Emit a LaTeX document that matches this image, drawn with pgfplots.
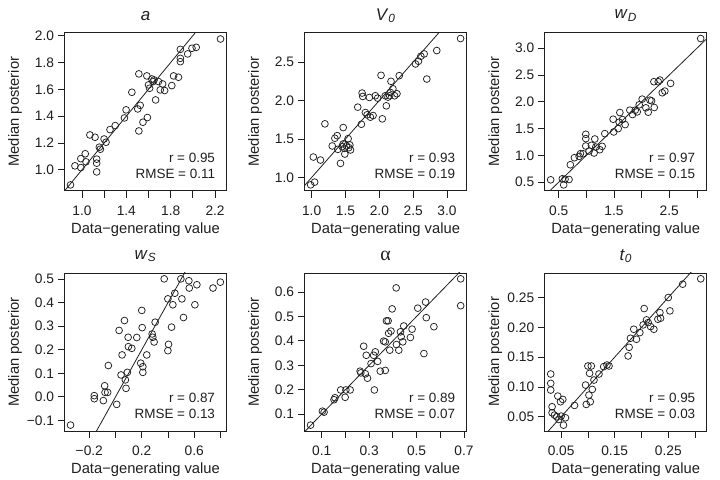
\documentclass[border=0pt]{standalone}
\usepackage{fontspec}
\setmainfont{Liberation Sans}
\newfontfamily\alphafont{Liberation Serif}
\usepackage{pgfplots}
\pgfplotsset{compat=1.18}
\definecolor{ink}{gray}{0.12}
\pgfplotsset{
  panel/.style={
    scale only axis, width=162bp, height=158bp,
    axis line style={line width=0.8bp, color=ink},
    tick style={line width=0.8bp, color=ink},
    tick align=outside, major tick length=7bp,
    xtick pos=bottom, ytick pos=left,
    minor tick num=0,
    tick label style={font=\fontsize{13.8}{14}\selectfont, text=ink},
    xticklabel style={anchor=center, yshift=-13bp},
    yticklabel style={anchor=east},
    label style={font=\fontsize{14.8}{15}\selectfont, text=ink},
    xlabel={Data−generating value},
    ylabel={Median posterior},
    xlabel style={at={(axis description cs:0.5,0)}, anchor=center, yshift=-39bp},
    ylabel style={at={(axis description cs:0,0.5)}, anchor=center, yshift=49.5bp},
    title style={at={(axis description cs:0.5,1)}, anchor=center, yshift=11bp, font=\fontsize{17}{17}\selectfont, text=ink},
    /pgf/number format/assume math mode=true,
    clip=true,
  },
  pts/.style={only marks, mark=o, mark size=3.4bp, mark options={line width=0.75bp, color=ink}},
  idl/.style={ink, line width=0.8bp, forget plot},
}
\newcommand{\stats}[2]{%
  \node[font=\fontsize{13.5}{14}\selectfont, text=ink, anchor=east] at (rel axis cs:1,0) [xshift=-8bp, yshift=33bp] {r = #1};
  \node[font=\fontsize{13.5}{14}\selectfont, text=ink, anchor=east] at (rel axis cs:1,0) [xshift=-8bp, yshift=17bp] {RMSE = #2};}
\begin{document}
\begin{tikzpicture}
\path[use as bounding box] (0,0) rectangle (720bp,480bp);
% Panel a
\begin{axis}[panel, at={(64.5bp,289.3bp)}, anchor=south west, title={\textit{a}},
  xmin=0.843, xmax=2.303, ymin=0.845, ymax=2.022,
  xtick={1.0,1.2,1.4,1.6,1.8,2.0,2.2}, xticklabels={1.0,,1.4,,1.8,,2.2},
  ytick={1.0,1.2,1.4,1.6,1.8,2.0}, yticklabels={1.0,1.2,1.4,1.6,1.8,2.0}]
\addplot[idl] coordinates {(-5,-5) (5,5)};
\addplot[pts] coordinates {(0.897,0.888)(0.937,1.03)(0.99,1.017)(0.99,1.084)(1.03,1.12)(1.036,1.06)(1.072,1.26)(1.118,1.243)(1.133,1.08)(1.133,1.05)(1.133,0.985)(1.157,1.169)(1.166,1.154)(1.20,1.23)(1.217,1.206)(1.253,1.30)(1.30,1.33)(1.383,1.387)(1.398,1.447)(1.45,1.578)(1.503,1.454)(1.525,1.481)(1.513,1.29)(1.55,1.355)(1.59,1.39)(1.513,1.715)(1.585,1.70)(1.60,1.633)(1.61,1.608)(1.63,1.677)(1.64,1.658)(1.65,1.67)(1.664,1.521)(1.69,1.658)(1.706,1.596)(1.727,1.64)(1.745,1.591)(1.81,1.628)(1.826,1.70)(1.87,1.69)(1.887,1.898)(1.887,1.831)(1.887,1.806)(1.953,1.864)(1.992,1.906)(2.03,1.913)(2.249,1.975)};
\stats{0.95}{0.11}
\end{axis}
% Panel V0
\begin{axis}[panel, at={(304.6bp,289.3bp)}, anchor=south west, title={\textit{V}\textsubscript{\textit{0}}},
  xmin=0.896, xmax=3.289, ymin=0.828, ymax=2.88,
  xtick={1.0,1.5,2.0,2.5,3.0}, xticklabels={1.0,1.5,2.0,2.5,3.0},
  ytick={1.0,1.5,2.0,2.5}, yticklabels={1.0,1.5,2.0,2.5}]
\addplot[idl] coordinates {(-5,-5) (5,5)};
\addplot[pts] coordinates {(0.985,0.904)(1.044,0.939)(1.025,1.265)(1.13,1.226)(1.196,1.696)(1.304,1.409)(1.343,1.509)(1.377,1.543)(1.387,1.365)(1.426,1.183)(1.45,1.40)(1.466,1.435)(1.466,1.648)(1.485,1.378)(1.49,1.304)(1.515,1.409)(1.539,1.504)(1.549,1.387)(1.564,1.422)(1.574,1.357)(1.681,1.913)(1.735,1.691)(1.745,2.096)(1.755,2.052)(1.794,1.843)(1.819,1.813)(1.853,2.039)(1.868,1.783)(1.907,1.804)(1.941,2.061)(1.975,2.03)(2.025,2.326)(2.044,1.761)(2.088,2.061)(2.103,1.93)(2.127,2.043)(2.152,2.061)(2.162,2.104)(2.172,2.248)(2.20,2.152)(2.225,2.061)(2.26,2.087)(2.294,2.322)(2.534,2.474)(2.578,2.509)(2.613,2.574)(2.662,2.604)(2.701,2.278)(2.848,2.648)(3.20,2.804)};
\stats{0.93}{0.19}
\end{axis}
% Panel wD
\begin{axis}[panel, at={(544.7bp,289.3bp)}, anchor=south west, title={\textit{w}\textsubscript{\textit{D}}},
  xmin=0.247, xmax=3.177, ymin=0.341, ymax=3.29,
  xtick={0.5,1.0,1.5,2.0,2.5,3.0}, xticklabels={0.5,,1.5,,2.5,},
  ytick={0.5,1.0,1.5,2.0,2.5,3.0}, yticklabels={0.5,1.0,1.5,2.0,2.5,3.0}]
\addplot[idl] coordinates {(-5,-5) (5,5)};
\addplot[pts] coordinates {(0.355,0.544)(0.566,0.563)(0.59,0.45)(0.615,0.556)(0.687,0.55)(0.711,0.825)(0.784,0.956)(0.869,0.981)(0.893,1.031)(0.941,1.031)(0.99,1.394)(0.99,1.313)(0.99,1.175)(1.05,1.081)(1.092,1.188)(1.14,1.044)(1.153,1.306)(1.171,1.156)(1.243,1.106)(1.286,1.169)(1.334,1.406)(1.485,1.675)(1.495,1.4375)(1.576,1.50)(1.594,1.619)(1.606,1.80)(1.654,1.669)(1.702,1.575)(1.787,1.844)(1.835,1.7625)(1.884,1.844)(1.92,1.8125)(1.956,1.944)(2.01,2.05)(2.077,1.8875)(2.119,1.806)(2.15,2.031)(2.18,2.019)(2.228,1.894)(2.222,2.375)(2.30,2.375)(2.331,2.406)(2.373,2.169)(2.42,2.2)(2.524,2.344)(3.068,3.181)};
\stats{0.97}{0.15}
\end{axis}
% Panel wS
\begin{axis}[panel, at={(64.5bp,49bp)}, anchor=south west, title={\textit{w}\textsubscript{\textit{S}}},
  xmin=-0.389, xmax=0.846, ymin=-0.145, ymax=0.526,
  xtick={-0.2,0.0,0.2,0.4,0.6,0.8}, xticklabels={−0.2,,0.2,,0.6,},
  ytick={-0.1,0.0,0.1,0.2,0.3,0.4,0.5}, yticklabels={−0.1,0.0,0.1,0.2,0.3,0.4,0.5}]
\addplot[idl] coordinates {(-5,-5) (5,5)};
\addplot[pts] coordinates {(-0.343,-0.12)(-0.162,0.005)(-0.162,-0.008)(-0.093,-0.016)(-0.083,0.047)(-0.08,0.019)(-0.06,0.019)(-0.055,0.133)(0.009,-0.032)(0.027,0.282)(0.042,0.093)(0.05,0.178)(0.068,0.324)(0.075,0.072)(0.08,0.036)(0.09,0.104)(0.096,0.253)(0.098,0.213)(0.124,0.206)(0.162,0.252)(0.192,0.143)(0.20,0.367)(0.203,0.294)(0.208,0.128)(0.208,0.104)(0.238,0.178)(0.279,0.267)(0.284,0.253)(0.294,0.233)(0.302,0.317)(0.371,0.501)(0.399,0.196)(0.404,0.223)(0.399,0.416)(0.427,0.296)(0.437,0.391)(0.452,0.44)(0.498,0.501)(0.506,0.416)(0.518,0.337)(0.559,0.493)(0.562,0.462)(0.605,0.391)(0.62,0.476)(0.743,0.462)(0.799,0.487)};
\stats{0.87}{0.13}
\end{axis}
% Panel alpha
\begin{axis}[panel, at={(304.6bp,49bp)}, anchor=south west, title={{\alphafont\fontsize{20}{20}\selectfont α}},
  xmin=0.028, xmax=0.711, ymin=0.031, ymax=0.678,
  xtick={0.1,0.2,0.3,0.4,0.5,0.6,0.7}, xticklabels={0.1,,0.3,,0.5,,0.7},
  ytick={0.1,0.2,0.3,0.4,0.5,0.6}, yticklabels={0.1,0.2,0.3,0.4,0.5,0.6}]
\addplot[idl] coordinates {(-5,-5) (5,5)};
\addplot[pts] coordinates {(0.053,0.055)(0.103,0.112)(0.11,0.108)(0.152,0.159)(0.156,0.167)(0.18,0.199)(0.199,0.169)(0.202,0.199)(0.22,0.199)(0.262,0.276)(0.265,0.269)(0.277,0.378)(0.284,0.265)(0.288,0.341)(0.293,0.247)(0.308,0.307)(0.319,0.341)(0.322,0.199)(0.326,0.355)(0.336,0.316)(0.347,0.276)(0.361,0.399)(0.368,0.396)(0.368,0.279)(0.373,0.482)(0.38,0.482)(0.382,0.431)(0.387,0.362)(0.392,0.44)(0.397,0.531)(0.414,0.617)(0.415,0.385)(0.425,0.362)(0.432,0.437)(0.435,0.417)(0.442,0.396)(0.446,0.461)(0.474,0.414)(0.481,0.448)(0.505,0.534)(0.531,0.348)(0.538,0.559)(0.541,0.495)(0.573,0.458)(0.686,0.654)(0.686,0.544)};
\stats{0.89}{0.07}
\end{axis}
% Panel t0
\begin{axis}[panel, at={(544.7bp,49bp)}, anchor=south west, title={\textit{t}\textsubscript{\textit{0}}},
  xmin=0.0194, xmax=0.3218, ymin=0.0262, ymax=0.2912,
  xtick={0.05,0.10,0.15,0.20,0.25,0.30}, xticklabels={0.05,,0.15,,0.25,},
  ytick={0.05,0.10,0.15,0.20,0.25}, yticklabels={0.05,0.10,0.15,0.20,0.25}]
\addplot[idl] coordinates {(-5,-5) (5,5)};
\addplot[pts] coordinates {(0.0306,0.1217)(0.0306,0.106)(0.0306,0.0948)(0.0331,0.0668)(0.0331,0.0567)(0.0375,0.0528)(0.0438,0.0847)(0.0419,0.05)(0.0456,0.0455)(0.0488,0.0752)(0.05,0.0511)(0.0531,0.0791)(0.0544,0.036)(0.0581,0.0483)(0.075,0.069)(0.0956,0.1032)(0.0969,0.0707)(0.1,0.1352)(0.1019,0.0864)(0.1031,0.1228)(0.1044,0.0752)(0.1063,0.1352)(0.1081,0.0959)(0.1113,0.1116)(0.1206,0.1217)(0.1294,0.134)(0.1356,0.1368)(0.1394,0.1352)(0.175,0.152)(0.1769,0.1665)(0.1794,0.1817)(0.1856,0.1968)(0.1906,0.18)(0.1969,0.1912)(0.2031,0.2041)(0.205,0.2315)(0.2094,0.2125)(0.2125,0.208)(0.2169,0.2013)(0.2231,0.1968)(0.2306,0.2136)(0.2344,0.2248)(0.2356,0.2153)(0.25,0.25)(0.2531,0.2276)(0.2769,0.2724)(0.3106,0.2814)};
\stats{0.95}{0.03}
\end{axis}
\end{tikzpicture}
\end{document}
